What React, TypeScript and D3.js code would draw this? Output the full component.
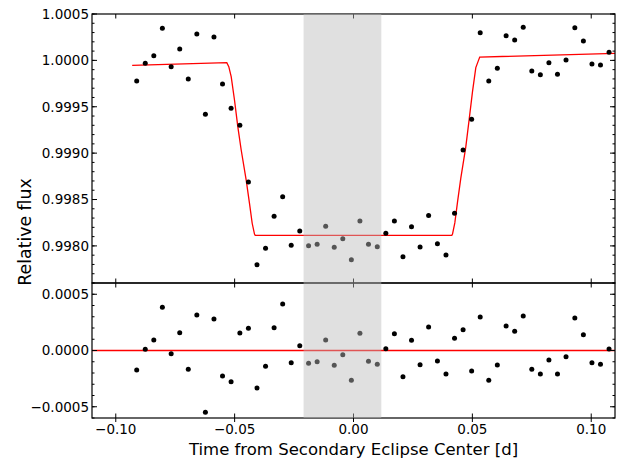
import React from "react";
import * as d3 from "d3";

// ---- data ----
const times = [
  -0.0912, -0.0876, -0.084, -0.0804, -0.0767, -0.0731, -0.0695, -0.0659, -0.0623, -0.0587,
  -0.0551, -0.0515, -0.0478, -0.0442, -0.0406, -0.037, -0.0334, -0.0298, -0.0262, -0.0226,
  -0.0189, -0.0153, -0.0117, -0.0081, -0.0045, -0.0009, 0.0027, 0.0063, 0.01, 0.0136,
  0.0172, 0.0208, 0.0244, 0.028, 0.0316, 0.0353, 0.0389, 0.0425, 0.0461, 0.0497,
  0.0533, 0.0569, 0.0605, 0.0642, 0.0678, 0.0714, 0.075, 0.0786, 0.0822, 0.0858,
  0.0894, 0.0931, 0.0967, 0.1003, 0.1039, 0.1075,
];
const flux = [
  0.999778, 0.999969, 1.00005, 1.000346, 0.999932, 1.000123, 0.999799, 1.000284, 0.999419, 1.000252,
  0.999745, 0.999483, 0.9993, 0.998689, 0.997797, 0.997974, 0.998319, 0.99853, 0.998006, 0.998161,
  0.998002, 0.998017, 0.998211, 0.997985, 0.998078, 0.997851, 0.998268, 0.998017, 0.997991, 0.998136,
  0.998268, 0.997884, 0.998207, 0.997988, 0.998328, 0.998023, 0.997902, 0.998351, 0.999034, 0.999365,
  1.000298, 0.999778, 0.999915, 1.000266, 1.00022, 1.000357, 0.999886, 0.999846, 0.999975, 0.99985,
  1.000004, 1.000352, 1.000209, 0.999961, 0.99995, 1.000087,
];
const residuals = [
  -0.000173, 0.000011, 0.000093, 0.000384, -0.000028, 0.000158, -0.000167, 0.000316, -0.000549, 0.00028,
  -0.000227, -0.000277, 0.000156, 0.000197, -0.000333, -0.00014, 0.000203, 0.000413, -0.000108, 0.000043,
  -0.000114, -0.0001, 0.000093, -0.000132, -0.000037, -0.000265, 0.000153, -0.000096, -0.000123, 0.000016,
  0.000149, -0.000233, 0.000091, -0.000126, 0.000209, -0.000093, -0.000209, 0.000108, 0.000185, -0.000182,
  0.000298, -0.000265, -0.000129, 0.000218, 0.000171, 0.000307, -0.000167, -0.000209, -0.000084, -0.000209,
  -0.000055, 0.000289, 0.00014, -0.000108, -0.000123, 0.000013,
];
const modelTime = [
  -0.0931, -0.0533, -0.05246, -0.05145, -0.05006, -0.04867, -0.04724, -0.04514, -0.04375, -0.04262,
  -0.04165, -0.04135, 0.04135, 0.04165, 0.04262, 0.04375, 0.04514, 0.04724, 0.04867, 0.05006,
  0.05145, 0.05246, 0.0531, 0.11,
];
const modelFlux = [
  0.999947, 0.999975, 0.999932, 0.999824, 0.999573, 0.999285, 0.999034, 0.99871, 0.998459, 0.998244,
  0.998128, 0.998114, 0.998114, 0.998128, 0.998248, 0.998471, 0.99873, 0.999068, 0.999366, 0.999663,
  0.999922, 0.999992, 1.000036, 1.000075,
];
const eclipseSpan = [-0.021, 0.0117];
const xTicks = [-0.1, -0.05, 0, 0.05, 0.1];
const xTickLabels = ["\u22120.10", "\u22120.05", "0.00", "0.05", "0.10"];
const topTicks = [1.0005, 1.0, 0.9995, 0.999, 0.9985, 0.998];
const topTickLabels = ["1.0005", "1.0000", "0.9995", "0.9990", "0.9985", "0.9980"];
const botTicks = [0.0005, 0, -0.0005];
const botTickLabels = ["0.0005", "0.0000", "\u22120.0005"];

const W = 629;
const H = 459;
const L = 92, R = 615, T = 14, MID = 283, B = 418;
const FONT = "DejaVu Sans";

export default function App() {
  const x = d3.scaleLinear().domain([-0.11, 0.11]).range([L, R]);
  const yT = d3.scaleLinear().domain([0.9976, 1.0005]).range([MID, T]);
  const yB = d3.scaleLinear().domain([-0.0006, 0.0006]).range([B, MID]);

  const modelPts: [number, number][] = modelTime.map((t, i) => [t, modelFlux[i]]);
  const modelLine = d3
    .line<[number, number]>()
    .x((d) => x(d[0]))
    .y((d) => yT(d[1]))(modelPts) as string;

  const minorTop = d3.range(0, 30).map((k) => 0.9976 + k * 0.0001).filter((v) => v <= 1.00051);
  const minorBot = d3.range(-6, 7).map((k) => k * 0.0001);

  const yTicksFor = (
    scale: d3.ScaleLinear<number, number>,
    minors: number[],
    majors: number[],
    key: string
  ) => (
    <g key={key} stroke="#000" strokeWidth={1}>
      {minors.map((v, i) => {
        const yy = scale(v);
        return (
          <g key={i}>
            <line x1={L} x2={L + 2.5} y1={yy} y2={yy} />
            <line x1={R} x2={R - 2.5} y1={yy} y2={yy} />
          </g>
        );
      })}
      {majors.map((v, i) => {
        const yy = scale(v);
        return (
          <g key={"M" + i}>
            <line x1={L} x2={L + 5} y1={yy} y2={yy} />
            <line x1={R} x2={R - 5} y1={yy} y2={yy} />
          </g>
        );
      })}
    </g>
  );

  return (
    <svg
      width={W}
      height={H}
      style={{ position: "absolute", left: 0, top: 0, background: "#fff" }}
      fontFamily={FONT}
    >
      <rect x={0} y={0} width={W} height={H} fill="#fff" />
      <defs>
        <clipPath id="clipTop">
          <rect x={L} y={T} width={R - L} height={MID - T} />
        </clipPath>
      </defs>
      {/* model */}
      <path d={modelLine} fill="none" stroke="#ff0000" strokeWidth={1.3} clipPath="url(#clipTop)" />
      <line x1={x(-0.11)} x2={x(0.11)} y1={yB(0)} y2={yB(0)} stroke="#ff0000" strokeWidth={1.3} />
      {/* points */}
      {times.map((t, i) => (
        <circle key={"f" + i} cx={x(t)} cy={yT(flux[i])} r={2.5} fill="#000" />
      ))}
      {times.map((t, i) => (
        <circle key={"r" + i} cx={x(t)} cy={yB(residuals[i])} r={2.5} fill="#000" />
      ))}
      {/* frames */}
      <rect x={L} y={T} width={R - L} height={MID - T} fill="none" stroke="#000" strokeWidth={1.2} />
      <rect x={L} y={MID} width={R - L} height={B - MID} fill="none" stroke="#000" strokeWidth={1.2} />
      {/* y ticks */}
      {yTicksFor(yT, minorTop, topTicks, "yt")}
      {yTicksFor(yB, minorBot, botTicks, "yb")}
      {/* x ticks */}
      <g stroke="#000" strokeWidth={1}>
        {xTicks.map((v, i) => {
          const xx = x(v);
          return (
            <g key={i}>
              <line x1={xx} x2={xx} y1={T} y2={T + 4.5} />
              <line x1={xx} x2={xx} y1={MID - 4.5} y2={MID + 4.5} />
              <line x1={xx} x2={xx} y1={B - 4.5} y2={B + 4} />
            </g>
          );
        })}
      </g>
      {/* eclipse band on top */}
      <rect
        x={x(eclipseSpan[0])}
        y={T}
        width={x(eclipseSpan[1]) - x(eclipseSpan[0])}
        height={B - T}
        fill="#bbbbbb"
        fillOpacity={0.455}
      />
      {/* tick labels */}
      <g fontSize={13.5} fill="#000" textAnchor="end">
        {topTicks.map((v, i) => (
          <text key={i} x={L - 3} y={yT(v)} dy="0.36em">
            {topTickLabels[i]}
          </text>
        ))}
        {botTicks.map((v, i) => (
          <text key={"b" + i} x={L - 3} y={yB(v)} dy="0.36em">
            {botTickLabels[i]}
          </text>
        ))}
      </g>
      <g fontSize={13.5} fill="#000" textAnchor="middle">
        {xTicks.map((v, i) => (
          <text key={i} x={x(v)} y={434}>
            {xTickLabels[i]}
          </text>
        ))}
      </g>
      <text x={(L + R) / 2} y={455} fontSize={16.5} textAnchor="middle" fill="#000">
        Time from Secondary Eclipse Center [d]
      </text>
      <text
        transform={`translate(31,232) rotate(-90)`}
        fontSize={17.3}
        textAnchor="middle"
        fill="#000"
      >
        Relative flux
      </text>
    </svg>
  );
}
